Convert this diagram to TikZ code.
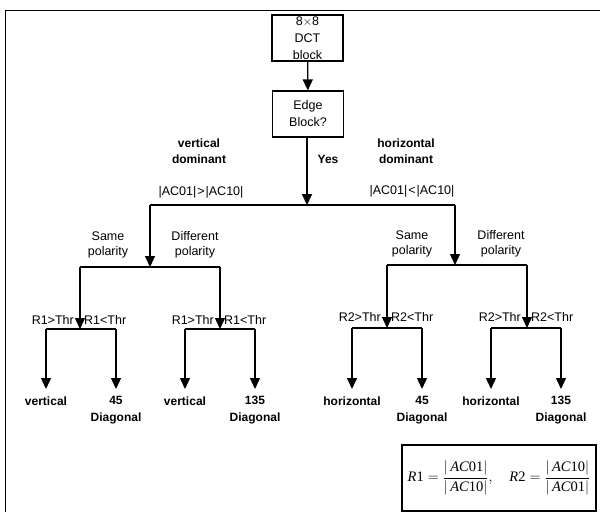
\documentclass[tikz,border=0pt]{standalone}
\usepackage{fontspec}
\setmainfont{Liberation Sans}
\newfontfamily\tnr{Liberation Serif}
\usetikzlibrary{arrows.meta}
\newcommand\mitx[1]{\hbox{\tnr\itshape #1}}
\newcommand\mupx[1]{\hbox{\tnr #1}}
\begin{document}
\begin{tikzpicture}[x=1pt,y=-1pt,
  box/.style={draw, line width=1.1pt, minimum width=71pt, minimum height=46pt, inner sep=0pt, align=center, font=\fontsize{12.5}{17}\selectfont},
  lbl/.style={align=center, inner sep=0pt, font=\fontsize{12.5}{15}\selectfont},
  blbl/.style={align=center, inner sep=0pt, font=\bfseries\fontsize{12}{16}\selectfont},
  outc/.style={align=center, inner sep=0pt, anchor=north, font=\bfseries\fontsize{12}{17}\selectfont},
  ln/.style={line width=1.3pt},
  arr/.style={ln, -{Triangle[width=10pt,length=11pt]}},
  frame/.style={line width=1pt}]
\useasboundingbox (0,0) rectangle (600,512);
% frame
\coordinate (fa) at (5,512);
\coordinate (fb) at (5,10);
\coordinate (fc) at (600,10);
\draw[frame] (fa) -- (fb) -- (fc);
% boxes
\node[box] (dct) at (307.5,38) {8$\times$8\\DCT\\block};
\node[box] (edge) at (308,114) {Edge\\Block?};
\draw[arr] (dct) -- (edge);
% top labels
\node[blbl] (vd) at (199,151) {vertical\\dominant};
\node[blbl] (hd) at (406,151) {horizontal\\dominant};
\node[blbl] (yes) at (328,159) {Yes};
% junctions
\coordinate (j0) at (307,205);
\coordinate (jl) at (150,205);
\coordinate (jr) at (455,205);
\draw[line width=2pt, -{Triangle[width=10pt,length=11pt]}] (edge.south -| j0) -- (j0);
\draw[ln] (jl) -- (jr);
\node[lbl] (cl) at (201,192) {|AC01|\kern1pt>\kern1pt|AC10|};
\node[lbl] (cr) at (412,191) {|AC01|\kern1pt<\kern1pt|AC10|};
% level 2
\coordinate (kl) at (150,267);
\coordinate (kla) at (80,267);
\coordinate (klb) at (220,267);
\coordinate (kr) at (455,265);
\coordinate (kra) at (387,265);
\coordinate (krb) at (527,265);
\draw[arr] (jl) -- (kl);
\draw[arr] (jr) -- (kr);
\draw[ln] (kla) -- (klb);
\draw[ln] (kra) -- (krb);
\node[lbl] (sl) at (108,245) {Same\\polarity};
\node[lbl] (dl) at (195,245) {Different\\polarity};
\node[lbl] (sr) at (412,244) {Same\\polarity};
\node[lbl] (dr) at (501,244) {Different\\polarity};
% level 3
\coordinate (ma) at (80,329);
\coordinate (ma1) at (46,329);
\coordinate (ma2) at (116,329);
\coordinate (mb) at (220,329);
\coordinate (mb1) at (185,329);
\coordinate (mb2) at (255,329);
\coordinate (mc) at (387,328);
\coordinate (mc1) at (352,328);
\coordinate (mc2) at (422,328);
\coordinate (md) at (527,328);
\coordinate (md1) at (491,328);
\coordinate (md2) at (561,328);
\draw[arr] (kla) -- (ma);
\draw[arr] (klb) -- (mb);
\draw[arr] (kra) -- (mc);
\draw[arr] (krb) -- (md);
\draw[ln] (ma1) -- (ma2);
\draw[ln] (mb1) -- (mb2);
\draw[ln] (mc1) -- (mc2);
\draw[ln] (md1) -- (md2);
\node[lbl, anchor=east] (ta1) at (74,320) {R1>Thr};
\node[lbl, anchor=west] (ta2) at (84,320) {R1<Thr};
\node[lbl, anchor=east] (tb1) at (214,320) {R1>Thr};
\node[lbl, anchor=west] (tb2) at (224,320) {R1<Thr};
\node[lbl, anchor=east] (tc1) at (381,317) {R2>Thr};
\node[lbl, anchor=west] (tc2) at (391,317) {R2<Thr};
\node[lbl, anchor=east] (td1) at (521,317) {R2>Thr};
\node[lbl, anchor=west] (td2) at (531,317) {R2<Thr};
% outcomes
\node[outc] (o1) at (46,397) {vertical};
\node[outc] (o2) at (116,396) {45\\Diagonal};
\node[outc] (o3) at (185,397) {vertical};
\node[outc] (o4) at (255,396) {135\\Diagonal};
\node[outc] (o5) at (352,397) {horizontal};
\node[outc] (o6) at (422,396) {45\\Diagonal};
\node[outc] (o7) at (491,397) {horizontal};
\node[outc] (o8) at (561,396) {135\\Diagonal};
\draw[arr, shorten >=8pt] (ma1) -- (ma1 |- o1.north);
\draw[arr, shorten >=7pt] (ma2) -- (ma2 |- o2.north);
\draw[arr, shorten >=8pt] (mb1) -- (mb1 |- o3.north);
\draw[arr, shorten >=7pt] (mb2) -- (mb2 |- o4.north);
\draw[arr, shorten >=8pt] (mc1) -- (mc1 |- o5.north);
\draw[arr, shorten >=7pt] (mc2) -- (mc2 |- o6.north);
\draw[arr, shorten >=8pt] (md1) -- (md1 |- o7.north);
\draw[arr, shorten >=7pt] (md2) -- (md2 |- o8.north);
% formula box
\node[draw, line width=1.1pt, minimum width=194pt, minimum height=66pt, inner sep=0pt, font=\fontsize{14.5}{17}\selectfont] (fm) at (499,478)
 {$\mitx{R}\mupx{1}=\displaystyle\frac{|\,\mitx{AC}\mupx{01}|}{|\,\mitx{AC}\mupx{10}|},\quad
   \mitx{R}\mupx{2}=\frac{|\,\mitx{AC}\mupx{10}|}{|\,\mitx{AC}\mupx{01}|}$};
\end{tikzpicture}
\end{document}
